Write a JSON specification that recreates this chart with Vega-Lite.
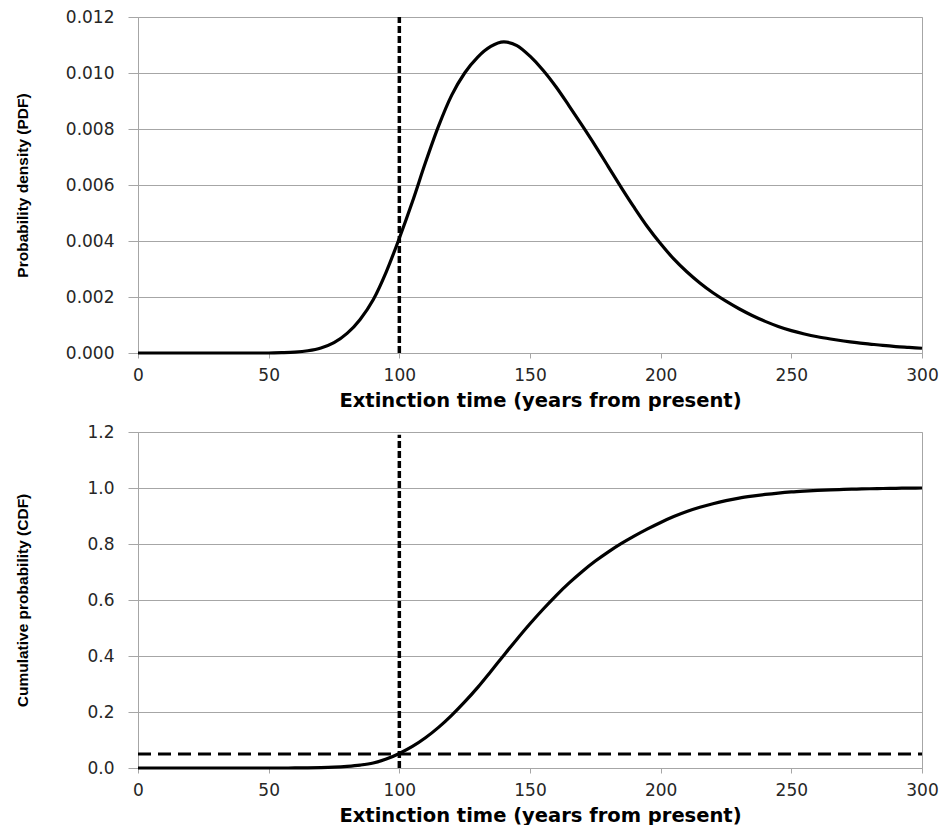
{
  "$schema": "https://vega.github.io/schema/vega-lite/v6.json",
  "autosize": {"type": "pad"},
  "padding": {"left": 14, "top": 7, "right": 0, "bottom": 0},
  "background": "white",
  "bounds": "flush",
  "spacing": 79,
  "config": {
    "view": {"stroke": "#a6a6a6", "strokeWidth": 1},
    "axis": {
      "domainColor": "#a6a6a6",
      "tickColor": "#a6a6a6",
      "gridColor": "#a6a6a6",
      "gridWidth": 1,
      "labelFont": "DejaVu Sans",
      "labelFontSize": 17,
      "labelColor": "#262626",
      "titleFont": "DejaVu Sans",
      "titleFontWeight": "bold",
      "titleFontSize": 19.5,
      "titleColor": "#000000",
      "labelOverlap": false,
      "labelFlush": false,
      "labelBound": false
    }
  },
  "datasets": {
    "curves": [
      {"t": 0, "pdf": 0, "cdf": 0},
      {"t": 10, "pdf": 0, "cdf": 0},
      {"t": 20, "pdf": 0, "cdf": 0},
      {"t": 30, "pdf": 0, "cdf": 0},
      {"t": 40, "pdf": 0, "cdf": 0},
      {"t": 50, "pdf": 0, "cdf": 0},
      {"t": 55, "pdf": 0.00001, "cdf": 0},
      {"t": 60, "pdf": 0.00003, "cdf": 0.0001},
      {"t": 65, "pdf": 0.00008, "cdf": 0.0004},
      {"t": 70, "pdf": 0.00018, "cdf": 0.0013},
      {"t": 75, "pdf": 0.00037, "cdf": 0.003},
      {"t": 80, "pdf": 0.0007, "cdf": 0.006},
      {"t": 85, "pdf": 0.0012, "cdf": 0.0105},
      {"t": 90, "pdf": 0.0019, "cdf": 0.018},
      {"t": 95, "pdf": 0.0029, "cdf": 0.032},
      {"t": 100, "pdf": 0.0041, "cdf": 0.052},
      {"t": 105, "pdf": 0.0054, "cdf": 0.077},
      {"t": 110, "pdf": 0.0068, "cdf": 0.108},
      {"t": 115, "pdf": 0.0081, "cdf": 0.145},
      {"t": 120, "pdf": 0.0092, "cdf": 0.188},
      {"t": 125, "pdf": 0.01, "cdf": 0.236},
      {"t": 130, "pdf": 0.01057, "cdf": 0.288},
      {"t": 135, "pdf": 0.01095, "cdf": 0.345},
      {"t": 140, "pdf": 0.01111, "cdf": 0.403},
      {"t": 145, "pdf": 0.01098, "cdf": 0.46},
      {"t": 150, "pdf": 0.0106, "cdf": 0.515},
      {"t": 155, "pdf": 0.0101, "cdf": 0.567},
      {"t": 160, "pdf": 0.0095, "cdf": 0.616},
      {"t": 165, "pdf": 0.00882, "cdf": 0.661},
      {"t": 170, "pdf": 0.00812, "cdf": 0.702},
      {"t": 175, "pdf": 0.0074, "cdf": 0.739},
      {"t": 180, "pdf": 0.00665, "cdf": 0.772},
      {"t": 185, "pdf": 0.0059, "cdf": 0.802},
      {"t": 190, "pdf": 0.00518, "cdf": 0.829},
      {"t": 195, "pdf": 0.0045, "cdf": 0.854},
      {"t": 200, "pdf": 0.0039, "cdf": 0.877},
      {"t": 205, "pdf": 0.00336, "cdf": 0.898},
      {"t": 210, "pdf": 0.0029, "cdf": 0.916},
      {"t": 215, "pdf": 0.0025, "cdf": 0.931},
      {"t": 220, "pdf": 0.00215, "cdf": 0.944},
      {"t": 225, "pdf": 0.00185, "cdf": 0.955},
      {"t": 230, "pdf": 0.00158, "cdf": 0.964},
      {"t": 235, "pdf": 0.00134, "cdf": 0.971},
      {"t": 240, "pdf": 0.00113, "cdf": 0.977},
      {"t": 245, "pdf": 0.00095, "cdf": 0.982},
      {"t": 250, "pdf": 0.0008, "cdf": 0.986},
      {"t": 255, "pdf": 0.00068, "cdf": 0.989},
      {"t": 260, "pdf": 0.00058, "cdf": 0.9915},
      {"t": 265, "pdf": 0.0005, "cdf": 0.9935},
      {"t": 270, "pdf": 0.00043, "cdf": 0.995},
      {"t": 275, "pdf": 0.00037, "cdf": 0.9963},
      {"t": 280, "pdf": 0.00032, "cdf": 0.9974},
      {"t": 285, "pdf": 0.00027, "cdf": 0.9983},
      {"t": 290, "pdf": 0.00023, "cdf": 0.999},
      {"t": 295, "pdf": 0.0002, "cdf": 0.9996},
      {"t": 300, "pdf": 0.00017, "cdf": 1.0}
    ],
    "vline_pdf": [{"t": 100, "lo": 0, "hi": 0.012}],
    "vline_cdf": [{"t": 100, "lo": 0, "hi": 1.19}],
    "hline_cdf": [{"level": 0.05, "t1": 0, "t2": 300}]
  },
  "vconcat": [
    {
      "width": 784,
      "height": 336,
      "layer": [
        {
          "data": {"name": "curves"},
          "mark": {"type": "line", "color": "#000000", "strokeWidth": 3.2, "interpolate": "monotone"},
          "encoding": {
            "x": {
              "field": "t", "type": "quantitative",
              "scale": {"domain": [0, 300], "nice": false},
              "axis": {
                "values": [0, 50, 100, 150, 200, 250, 300],
                "grid": false,
                "title": "Extinction time (years from present)",
                "tickSize": 5,
                "labelPadding": 9,
                "titleX": 402,
                "titleY": 53,
                "titleAlign": "center",
                "titleBaseline": "alphabetic"
              }
            },
            "y": {
              "field": "pdf", "type": "quantitative",
              "scale": {"domain": [0, 0.012], "nice": false},
              "axis": {
                "values": [0, 0.002, 0.004, 0.006, 0.008, 0.01, 0.012],
                "format": ".3f",
                "title": "Probability density (PDF)",
                "tickSize": 10,
                "labelPadding": 14,
                "titleX": -116,
                "titleY": 168,
                "titleAngle": 270,
                "titleAlign": "center",
                "titleBaseline": "middle",
                "titleFont": "Liberation Sans",
                "titleFontSize": 15.5
              }
            }
          }
        },
        {
          "data": {"name": "vline_pdf"},
          "mark": {"type": "rule", "color": "#000000", "strokeWidth": 3.5, "strokeDash": [7, 3]},
          "encoding": {
            "x": {"field": "t", "type": "quantitative"},
            "y": {"field": "lo", "type": "quantitative"},
            "y2": {"field": "hi"}
          }
        }
      ]
    },
    {
      "width": 784,
      "height": 336,
      "layer": [
        {
          "data": {"name": "curves"},
          "mark": {"type": "line", "color": "#000000", "strokeWidth": 3.2, "interpolate": "monotone"},
          "encoding": {
            "x": {
              "field": "t", "type": "quantitative",
              "scale": {"domain": [0, 300], "nice": false},
              "axis": {
                "values": [0, 50, 100, 150, 200, 250, 300],
                "grid": false,
                "title": "Extinction time (years from present)",
                "tickSize": 5,
                "labelPadding": 9,
                "titleX": 402,
                "titleY": 53,
                "titleAlign": "center",
                "titleBaseline": "alphabetic"
              }
            },
            "y": {
              "field": "cdf", "type": "quantitative",
              "scale": {"domain": [0, 1.2], "nice": false},
              "axis": {
                "values": [0, 0.2, 0.4, 0.6, 0.8, 1.0, 1.2],
                "format": ".1f",
                "title": "Cumulative probability (CDF)",
                "tickSize": 10,
                "labelPadding": 14,
                "titleX": -116,
                "titleY": 168,
                "titleAngle": 270,
                "titleAlign": "center",
                "titleBaseline": "middle",
                "titleFont": "Liberation Sans",
                "titleFontSize": 15.5
              }
            }
          }
        },
        {
          "data": {"name": "vline_cdf"},
          "mark": {"type": "rule", "color": "#000000", "strokeWidth": 3.5, "strokeDash": [7, 3]},
          "encoding": {
            "x": {"field": "t", "type": "quantitative"},
            "y": {"field": "lo", "type": "quantitative"},
            "y2": {"field": "hi"}
          }
        },
        {
          "data": {"name": "hline_cdf"},
          "mark": {"type": "rule", "color": "#000000", "strokeWidth": 3, "strokeDash": [13, 7]},
          "encoding": {
            "y": {"field": "level", "type": "quantitative"},
            "x": {"field": "t1", "type": "quantitative"},
            "x2": {"field": "t2"}
          }
        }
      ]
    }
  ]
}
